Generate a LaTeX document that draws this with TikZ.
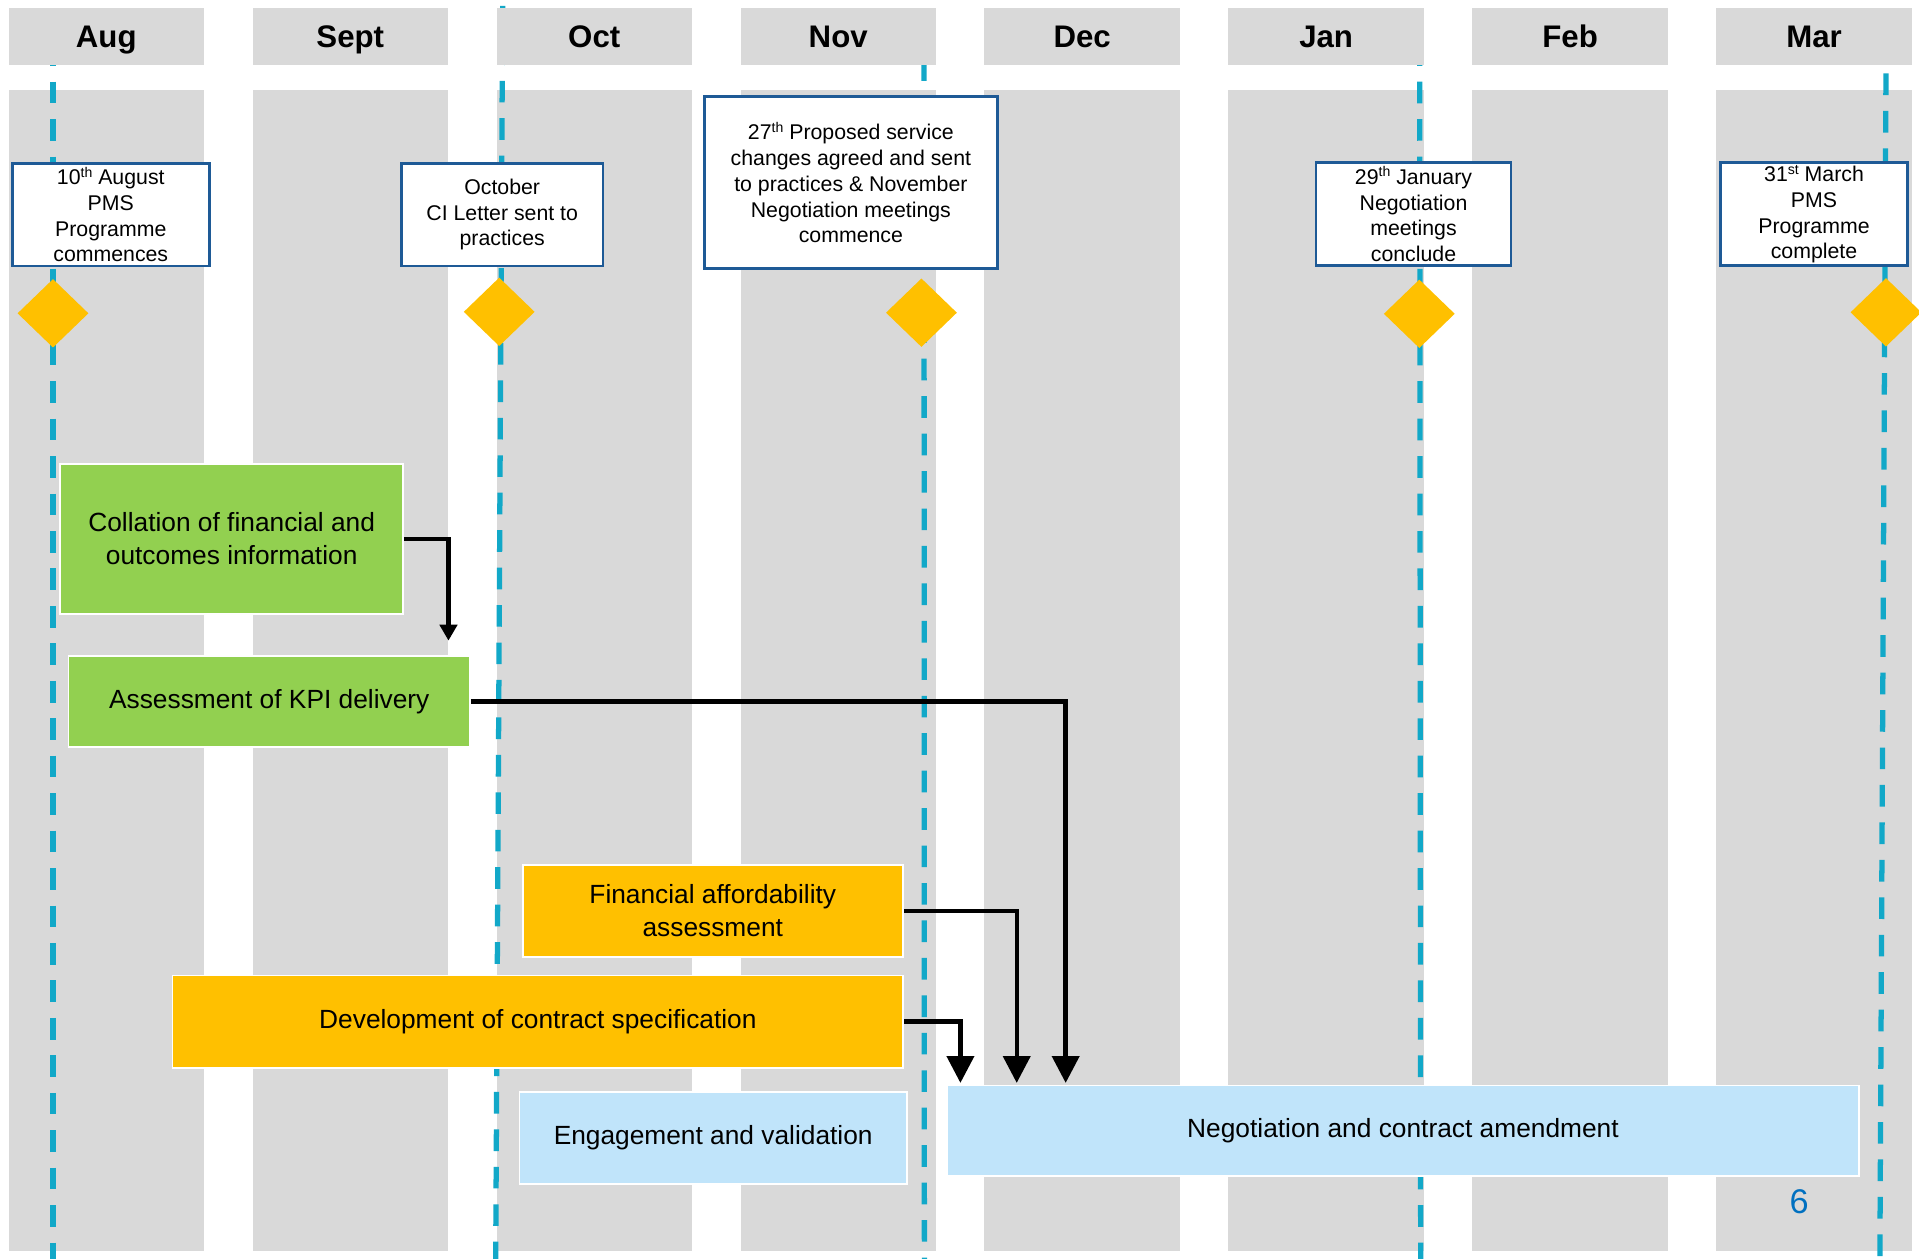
\documentclass[tikz,border=0pt]{standalone}
\usepackage{fontspec}
\setmainfont{Liberation Sans}
\usetikzlibrary{shapes.geometric,arrows.meta,calc}

\definecolor{colgray}{RGB}{217,217,217}
\definecolor{dashblue}{RGB}{18,168,200}
\definecolor{msborder}{RGB}{30,90,150}
\definecolor{diagold}{RGB}{255,192,0}
\definecolor{taskgreen}{RGB}{146,208,80}
\definecolor{taskorange}{RGB}{255,192,0}
\definecolor{tasklblue}{RGB}{192,228,250}
\definecolor{pageblue}{RGB}{0,112,192}

\newcommand{\supmark}[1]{\raisebox{0.36em}{\fontsize{11.5}{11.5}\selectfont #1}}

\begin{document}
\begin{tikzpicture}[x=1pt,y=-1pt,
  monthhead/.style={fill=colgray, draw=none, minimum width=159.7pt, minimum height=46.4pt, inner sep=0pt,
    font=\fontsize{25.5}{30}\selectfont\bfseries, text height=18.2pt, text depth=0pt},
  timeline/.style={draw=dashblue, line width=4.3pt, dash pattern=on 17.7pt off 12.9pt},
  milestone/.style={draw=msborder, line width=2.2pt, fill=white, inner sep=0pt, align=center,
    font=\fontsize{17.4}{21}\selectfont},
  mdiamond/.style={diamond, fill=diagold, draw=none, inner sep=0pt, minimum width=58pt, minimum height=56pt},
  task/.style={draw=white, line width=1.5pt, inner sep=0pt, align=center, font=\fontsize{21.5}{27}\selectfont},
  conn/.style={draw=black, line width=3.6pt, -{Triangle[width=22pt,length=22pt]}},
  smallconn/.style={draw=black, line width=3.4pt, -{Triangle[width=14pt,length=13pt]}},
]
\useasboundingbox (0,0) rectangle (1568,1028.7);

% month columns
\foreach \i in {0,...,7} {
  \fill[colgray] ({7+199.35*\i},73.5) rectangle ++(159.7,948.3);
}

% dashed milestone lines
\draw[timeline, dash phase=1.5pt] (43.3,7) -- (43.3,1032);
\draw[timeline] (410.7,4.8) -- (405,1032);
\draw[timeline] (755,48.3) -- (755.3,1032);
\draw[timeline, dash phase=1.5pt] (1160,7) -- (1160.8,1032);
\draw[timeline] (1541,60) -- (1536,1032);

% month headers (on top of the lines)
\node[monthhead] (hAug) at (86.85,29.7) {Aug};
\node[monthhead] (hSep) at (286.2,29.7) {Sept};
\node[monthhead] (hOct) at (485.55,29.7) {Oct};
\node[monthhead] (hNov) at (684.9,29.7) {Nov};
\node[monthhead] (hDec) at (884.25,29.7) {Dec};
\node[monthhead] (hJan) at (1083.6,29.7) {Jan};
\node[monthhead] (hFeb) at (1282.95,29.7) {Feb};
\node[monthhead] (hMar) at (1482.3,29.7) {Mar};

% task boxes
\node[task, fill=taskgreen, minimum width=280pt, minimum height=122.6pt] (coll) at (189.3,440.3)
  {Collation of financial and\\outcomes information};
\node[task, fill=taskgreen, minimum width=328pt, minimum height=74.5pt] (assess) at (220,573.25)
  {Assessment of KPI delivery};
\node[task, fill=taskorange, minimum width=310.8pt, minimum height=75.3pt] (fin) at (582.4,744.35)
  {Financial affordability\\assessment};
\node[task, fill=taskorange, minimum width=597pt, minimum height=75.3pt] (dev) at (439.5,834.65)
  {Development of contract specification};
\node[task, fill=tasklblue, minimum width=316.5pt, minimum height=74.9pt] (eng) at (582.75,929.85)
  {Engagement and validation};
\node[task, fill=tasklblue, minimum width=745.3pt, minimum height=74pt] (neg) at (1146.35,924)
  {Negotiation and contract amendment};

% milestone boxes
\node[milestone, minimum width=161pt, minimum height=83.9pt] (mAug) at (90.5,175.35)
  {10\supmark{th} August\\PMS\\Programme\\commences};
\node[milestone, minimum width=164.7pt, minimum height=83.9pt] (mOct) at (410.35,175.35)
  {October\\CI Letter sent to\\practices};
\node[milestone, minimum width=239.3pt, minimum height=140.2pt] (mNov) at (695.25,149.1)
  {27\supmark{th} Proposed service\\changes agreed and sent\\to practices \& November\\Negotiation meetings\\commence};
\node[milestone, minimum width=159.1pt, minimum height=84pt] (mJan) at (1154.95,175)
  {29\supmark{th} January\\Negotiation\\meetings\\conclude};
\node[milestone, minimum width=152.4pt, minimum height=84pt] (mMar) at (1482.2,175)
  {31\supmark{st} March\\PMS\\Programme\\complete};

% diamonds
\node[mdiamond] (dAug) at (43.3,256) {};
\node[mdiamond] (dOct) at (407.9,254.8) {};
\node[mdiamond] (dNov) at (752.9,255.5) {};
\node[mdiamond] (dJan) at (1159.7,256.4) {};
\node[mdiamond] (dMar) at (1541,255.2) {};

% connectors
\draw[smallconn] (coll.east) -| ([xshift=-18.3pt,yshift=11.8pt]assess.north east);
\draw[conn] (assess.east) -| ([xshift=97.8pt,yshift=1.4pt]neg.north west);
\draw[conn] (fin.east) -| ([xshift=57.8pt,yshift=1.4pt]neg.north west);
\draw[conn] (dev.east) -| ([xshift=11.8pt,yshift=1.4pt]neg.north west);

% page number
\node[font=\fontsize{28}{32}\selectfont, text=pageblue, inner sep=0pt] (pnum) at (1470,982) {6};
\end{tikzpicture}
\end{document}
